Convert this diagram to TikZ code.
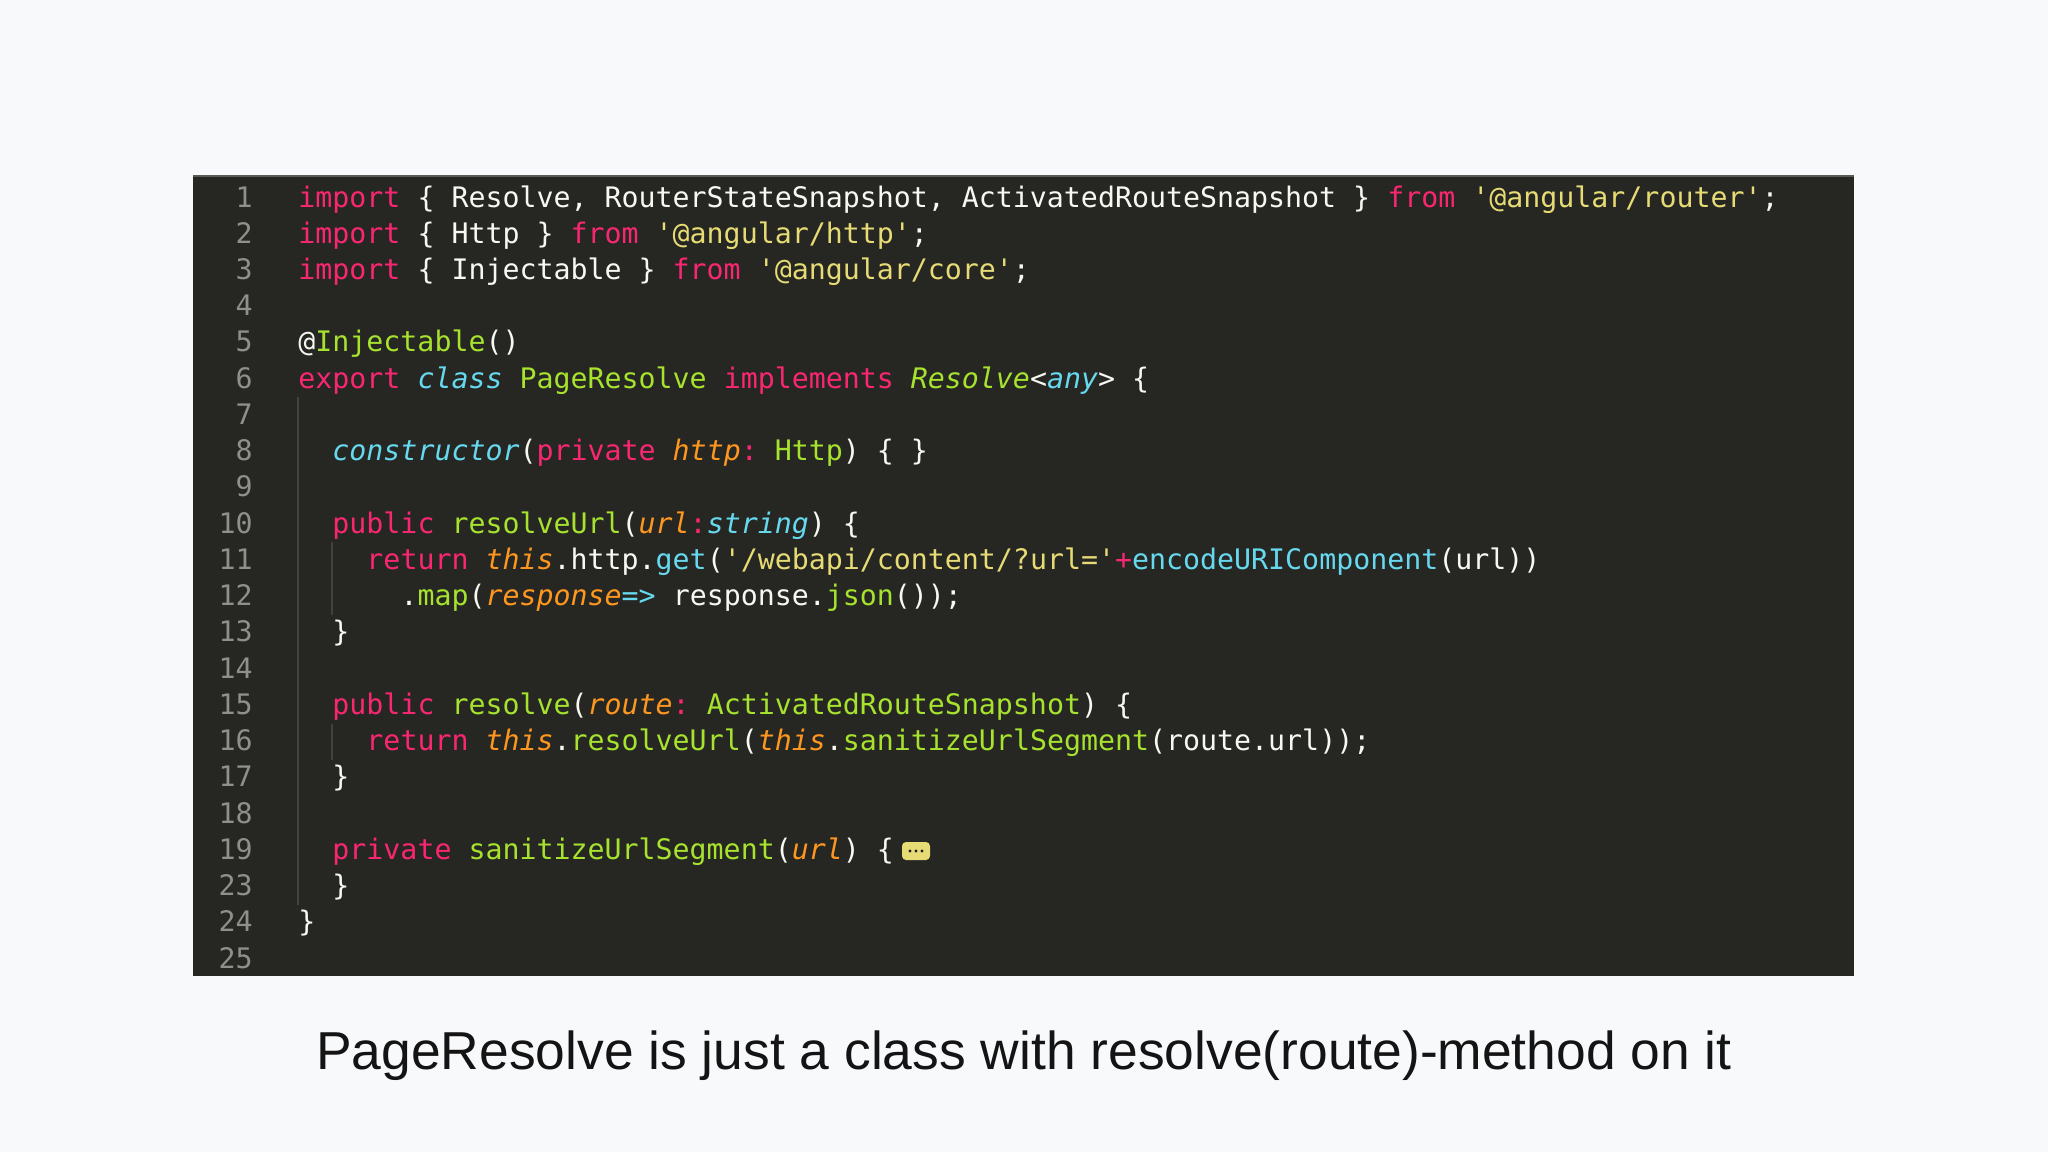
\documentclass[tikz,border=0pt]{standalone}
\usepackage{fontspec}
\setmonofont{DejaVu Sans Mono}[ItalicFont={DejaVu Sans Mono Oblique}]
\setsansfont{Liberation Sans}
\definecolor{pagebg}{HTML}{F8F9FB}
\definecolor{codebg}{HTML}{262622}
\definecolor{topline}{HTML}{5A5A55}
\definecolor{kwc}{HTML}{F92672}
\definecolor{strc}{HTML}{E6DB74}
\definecolor{grnc}{HTML}{A6E22E}
\definecolor{cync}{HTML}{66D9EF}
\definecolor{orgc}{HTML}{FD971F}
\definecolor{whtc}{HTML}{F8F8F2}
\definecolor{lnumc}{HTML}{8F908A}
\definecolor{guidec}{HTML}{42423B}
\newcommand\ckw[1]{\textcolor{kwc}{#1}}
\newcommand\cstr[1]{\textcolor{strc}{#1}}
\newcommand\cgrn[1]{\textcolor{grnc}{#1}}
\newcommand\ccyn[1]{\textcolor{cync}{#1}}
\newcommand\corg[1]{\textcolor{orgc}{\itshape #1}}
\newcommand\cci[1]{\textcolor{cync}{\itshape #1}}
\newcommand\cgi[1]{\textcolor{grnc}{\itshape #1}}
\newcommand\rowy[1]{207+#1*36.24}
\newcommand\colx[1]{298+#1*17.02}
\tikzset{
  codeline/.style={anchor=base west, inner sep=0pt, text=whtc,
    font=\ttfamily\fontsize{14.13pt}{16pt}\selectfont},
  lnum/.style={anchor=base east, inner sep=0pt, text=lnumc,
    font=\ttfamily\fontsize{14.13pt}{16pt}\selectfont},
  guide/.style={draw=guidec, line width=0.8pt},
  caption/.style={anchor=base, inner sep=0pt, text=black!92,
    font=\sffamily\fontsize{26.7pt}{30pt}\selectfont}
}
\begin{document}
\begin{tikzpicture}[x=0.5pt, y=-0.5pt]
\fill[pagebg] (0,0) rectangle (2048,1152);
\useasboundingbox (0,0) rectangle (2048,1152);
\fill[codebg] (193,175) rectangle (1854,976);
\draw[topline, line width=1.2pt] (193,176) -- (1854,176);
% line numbers
\foreach \n/\i in {1/0,2/1,3/2,4/3,5/4,6/5,7/6,8/7,9/8,10/9,11/10,12/11,13/12,14/13,15/14,16/15,17/16,18/17,19/18,23/19,24/20,25/21}
  \node[lnum] (ln\n) at (253,{\rowy{\i}}) {\n};
% indent guides
\draw[guide] ({\colx{0}},{\rowy{6}-27}) -- ({\colx{0}},{\rowy{19}+9});
\draw[guide] ({\colx{2}},{\rowy{10}-27}) -- ({\colx{2}},{\rowy{11}+9});
\draw[guide] ({\colx{2}},{\rowy{15}-27}) -- ({\colx{2}},{\rowy{15}+9});
% code
\node[codeline] (c1) at ({\colx{0}},{\rowy{0}}) {\ckw{import} \{ Resolve, RouterStateSnapshot, ActivatedRouteSnapshot \} \ckw{from} \cstr{'@angular/router'};};
\node[codeline] (c2) at ({\colx{0}},{\rowy{1}}) {\ckw{import} \{ Http \} \ckw{from} \cstr{'@angular/http'};};
\node[codeline] (c3) at ({\colx{0}},{\rowy{2}}) {\ckw{import} \{ Injectable \} \ckw{from} \cstr{'@angular/core'};};
\node[codeline] (c5) at ({\colx{0}},{\rowy{4}}) {@\cgrn{Injectable}()};
\node[codeline] (c6) at ({\colx{0}},{\rowy{5}}) {\ckw{export} \cci{class} \cgrn{PageResolve} \ckw{implements} \cgi{Resolve}<\cci{any}> \{};
\node[codeline] (c8) at ({\colx{2}},{\rowy{7}}) {\cci{constructor}(\ckw{private} \corg{http}\ckw{:} \cgrn{Http}) \{ \}};
\node[codeline] (c10) at ({\colx{2}},{\rowy{9}}) {\ckw{public} \cgrn{resolveUrl}(\corg{url}\ckw{:}\cci{string}) \{};
\node[codeline] (c11) at ({\colx{4}},{\rowy{10}}) {\ckw{return} \corg{this}.http.\ccyn{get}(\cstr{'/webapi/content/?url='}\ckw{+}\ccyn{encodeURIComponent}(url))};
\node[codeline] (c12) at ({\colx{6}},{\rowy{11}}) {.\cgrn{map}(\corg{response}\ccyn{=>} response.\cgrn{json}());};
\node[codeline] (c13) at ({\colx{2}},{\rowy{12}}) {\}};
\node[codeline] (c15) at ({\colx{2}},{\rowy{14}}) {\ckw{public} \cgrn{resolve}(\corg{route}\ckw{:} \cgrn{ActivatedRouteSnapshot}) \{};
\node[codeline] (c16) at ({\colx{4}},{\rowy{15}}) {\ckw{return} \corg{this}.\cgrn{resolveUrl}(\corg{this}.\cgrn{sanitizeUrlSegment}(route.url));};
\node[codeline] (c17) at ({\colx{2}},{\rowy{16}}) {\}};
\node[codeline] (c19) at ({\colx{2}},{\rowy{18}}) {\ckw{private} \cgrn{sanitizeUrlSegment}(\corg{url}) \{};
\node[codeline] (c23) at ({\colx{2}},{\rowy{19}}) {\}};
\node[codeline] (c24) at ({\colx{0}},{\rowy{20}}) {\}};
% fold marker
\fill[strc, rounded corners=2pt] (902,842) rectangle (930,860);
\foreach \dx in {910,916,922}
  \fill[codebg!80!black] (\dx,851) circle (1.6);
% caption
\node[caption] (cap) at (1024,1069) {PageResolve is just a class with resolve(route)-method on it};
\end{tikzpicture}
\end{document}
